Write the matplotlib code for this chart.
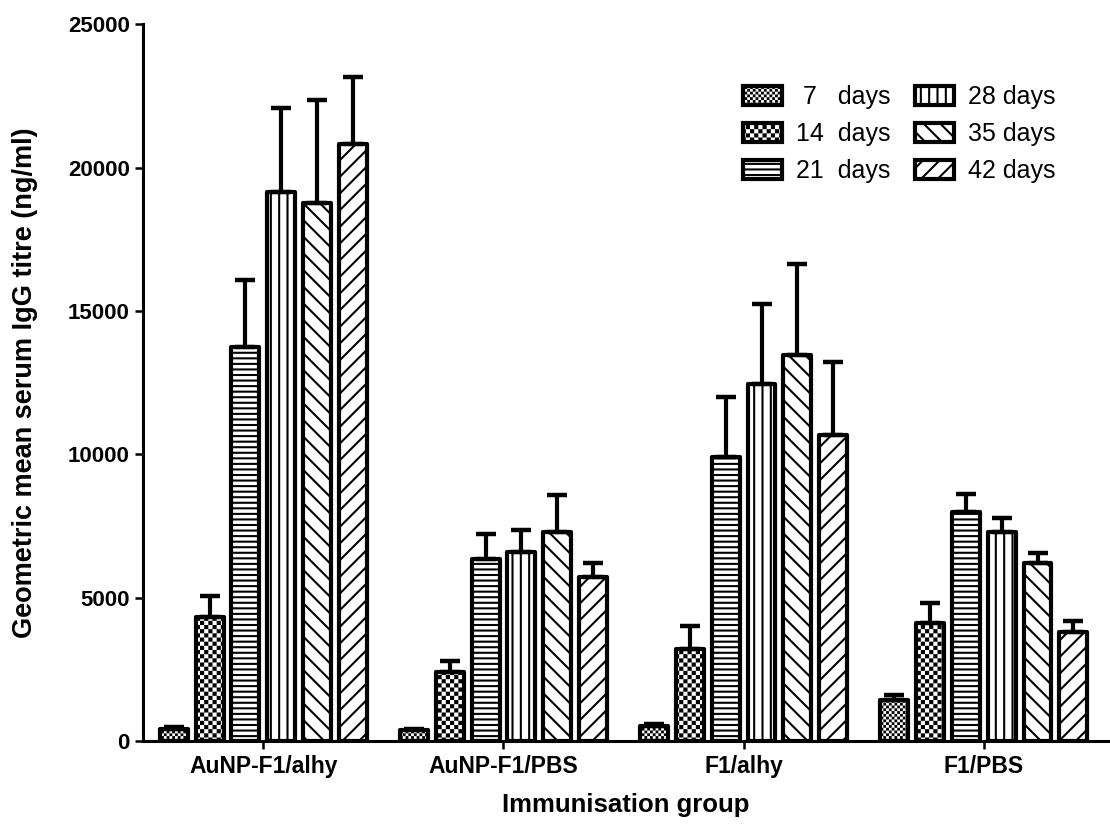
import numpy as np
import matplotlib
matplotlib.use('Agg')
import matplotlib.pyplot as plt
import matplotlib.hatch as mhatch
from matplotlib.path import Path

groups = ['AuNP-F1/alhy', 'AuNP-F1/PBS', 'F1/alhy', 'F1/PBS']
labels = [' 7   days', '14  days', '21  days', '28 days', '35 days', '42 days']

# geometric mean titre per group, one list per time point
d7 = [430, 370, 520, 1430]
d14 = [4320, 2390, 3210, 4130]
d21 = [13750, 6330, 9900, 7970]
d28 = [19150, 6600, 12450, 7300]
d35 = [18760, 7300, 13460, 6200]
d42 = [20830, 5730, 10670, 3790]

# upper error bars
e7 = [50, 60, 80, 170]
e14 = [730, 380, 800, 690]
e21 = [2330, 880, 2090, 660]
e28 = [2930, 770, 2790, 490]
e35 = [3600, 1280, 3170, 370]
e42 = [2340, 480, 2550, 390]

means = [d7, d14, d21, d28, d35, d42]
errs = [e7, e14, e21, e28, e35, e42]

plt.rcParams['font.family'] = ['Liberation Sans', 'DejaVu Sans']
plt.rcParams['hatch.linewidth'] = 1.5
plt.rcParams['hatch.color'] = 'black'


# checkerboard fill, used instead of the big circles for 'O'
class Checker(mhatch.HatchPatternBase):
    def __init__(self, hatch, density):
        self.n = 12 * hatch.count('O')
        self.num_vertices = 5 * (self.n * self.n // 2)

    def set_vertices_and_codes(self, vertices, codes):
        s = 1.0 / self.n
        side = s - plt.rcParams['hatch.linewidth'] / 72.0
        off = (s - side) / 2
        sq = np.array([[0, 0], [1, 0], [1, 1], [0, 1], [0, 0]]) * side + off
        parts = [sq + [i * s, j * s] for i in range(self.n) for j in range(self.n)
                 if (i + j) % 2 == 0]
        vertices[:] = np.concatenate(parts)
        codes[:] = np.tile([Path.MOVETO, Path.LINETO, Path.LINETO, Path.LINETO,
                            Path.CLOSEPOLY], len(parts))


mhatch._hatch_types = [h for h in mhatch._hatch_types if h is not mhatch.LargeCircles]
mhatch._hatch_types.append(Checker)

hatches = ['OOO', 'OO', '---', '||', '\\\\', '//']

fig = plt.figure(figsize=(11.1, 8.4), dpi=100)
ax = fig.add_axes([0.129, 0.118, 0.869, 0.853])

x = np.arange(len(groups))
step = 0.149
width = 0.116
for i in range(6):
    pos = x + (i - 2.5) * step
    ax.bar(pos, means[i], width, color='white', edgecolor='black', linewidth=3,
           hatch=hatches[i], label=labels[i], joinstyle='round', zorder=2)
    ax.errorbar(pos, means[i], yerr=[np.zeros(4), errs[i]], fmt='none', ecolor='black',
                elinewidth=3, capsize=7, capthick=3.2, zorder=3)

ax.set_xlim(-0.5, 3.516)
ax.set_ylim(0, 25000)
ax.set_yticks([0, 5000, 10000, 15000, 20000, 25000])
ax.set_xticks(x)
ax.set_xticklabels(groups)
ax.spines['top'].set_visible(False)
ax.spines['right'].set_visible(False)
ax.spines['left'].set_linewidth(2.2)
ax.spines['bottom'].set_linewidth(2.2)
ax.tick_params(axis='both', width=1.8, length=6)
ax.tick_params(axis='y', labelsize=16)
ax.tick_params(axis='x', labelsize=16.5, pad=4)
for t in ax.get_xticklabels() + ax.get_yticklabels():
    t.set_fontweight('bold')

ax.set_ylabel('Geometric mean serum IgG titre (ng/ml)', fontsize=19.5, fontweight='bold', labelpad=22)
ax.set_xlabel('Immunisation group', fontsize=18.5, fontweight='bold', labelpad=11)

ax.legend(ncol=2, loc='upper left', bbox_to_anchor=(0.622, 0.915), frameon=False,
          fontsize=18, handlelength=1.55, handleheight=0.75, handletextpad=0.55,
          labelspacing=0.52, columnspacing=1.0, borderpad=0, borderaxespad=0)

plt.savefig('out.png', dpi=100)
